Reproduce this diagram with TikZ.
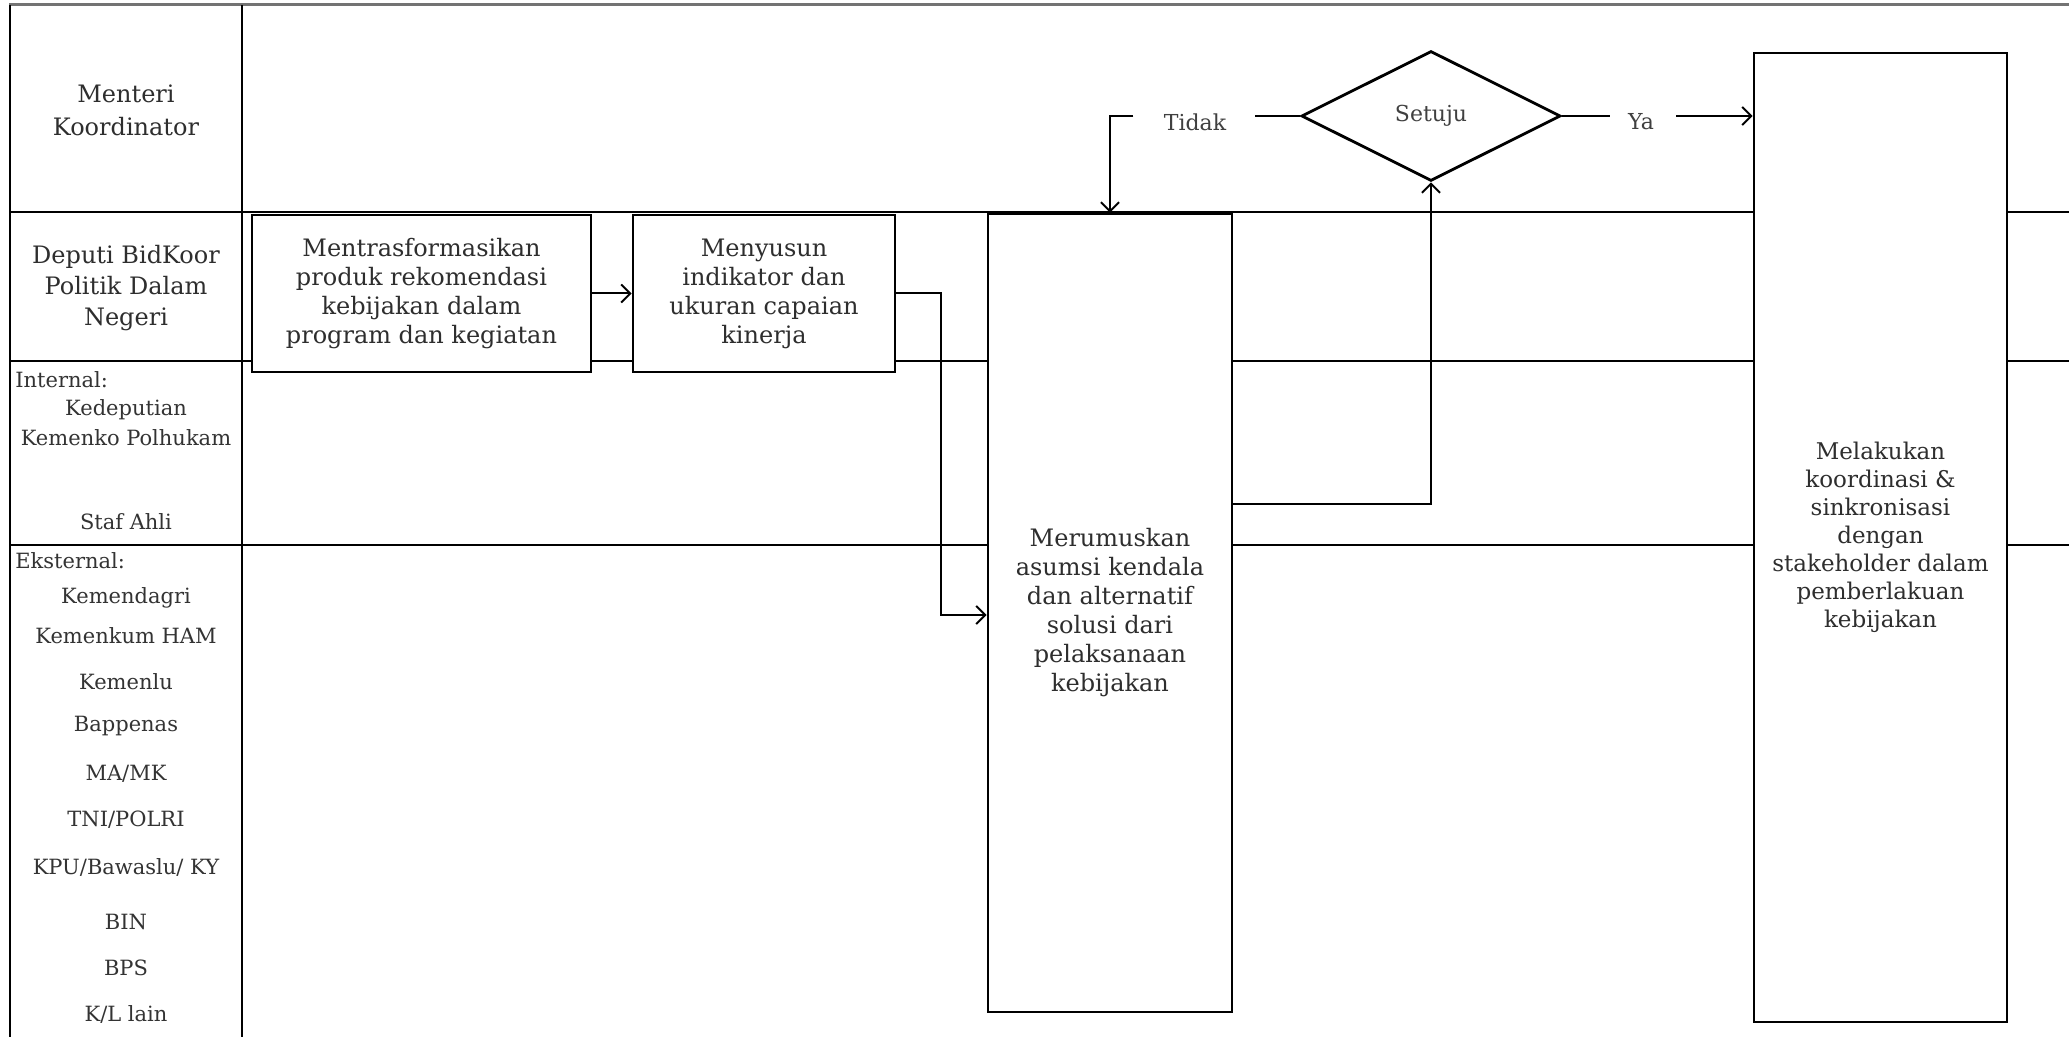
\documentclass[tikz,border=0pt]{standalone}
\usepackage{fontspec}
\setmainfont{DejaVu Serif}
\usetikzlibrary{shapes.geometric,arrows.meta}
\begin{document}
\begin{tikzpicture}[x=0.5pt,y=-0.5pt,
  lane/.style={line width=1pt,black},
  box/.style={draw=black,line width=1.4pt,fill=white,inner sep=0pt,align=center,text=black!82,font=\fontsize{12}{14.5}\selectfont},
  conn/.style={line width=1pt,-{Straight Barb[length=4.5pt,width=9pt]}},
  plain/.style={line width=1pt},
  lbl/.style={text=black!82,align=center,inner sep=0pt},
  lst/.style={text=black!80,inner sep=0pt,font=\fontsize{10.5}{12}\selectfont},
  dec/.style={text=black!75,inner sep=0pt,font=\fontsize{11}{13}\selectfont},
]
\useasboundingbox (0,0) rectangle (2069,1037);
\fill[white] (0,0) rectangle (2069,1037);
% frame and lanes
\draw[line width=1.5pt,black!55] (9,5) -- (2069,5);
\draw[lane] (9.5,5) -- (9.5,1037);
\draw[lane] (241.5,5) -- (241.5,1037);
\draw[lane] (9.5,212) -- (2069,212);
\draw[lane] (9.5,361) -- (2069,361);
\draw[lane] (9.5,545.5) -- (2069,545.5);
% lane labels
\node[lbl,font=\fontsize{12}{16.5}\selectfont] (lmk) at (126,110) {Menteri\\Koordinator};
\node[lbl,font=\fontsize{12}{15.5}\selectfont] (ldp) at (126,288) {Deputi BidKoor\\Politik Dalam\\Negeri};
\node[lst,anchor=west] (lint) at (15,380) {Internal:};
\node[lst] (la1) at (126,409.5) {Kedeputian};
\node[lst] (la2) at (126,438) {Kemenko Polhukam};
\node[lst] (la3) at (126,522) {Staf Ahli};
\node[lst,anchor=west] (leks) at (15,561) {Eksternal:};
\node[lst] (le1) at (126,598) {Kemendagri};
\node[lst] (le2) at (126,635.5) {Kemenkum HAM};
\node[lst] (le3) at (126,682) {Kemenlu};
\node[lst] (le4) at (126,726.5) {Bappenas};
\node[lst] (le5) at (126,774) {MA/MK};
\node[lst] (le6) at (126,820) {TNI/POLRI};
\node[lst] (le7) at (126,867) {KPU/Bawaslu/ KY};
\node[lst] (le8) at (126,921.5) {BIN};
\node[lst] (le9) at (126,968) {BPS};
\node[lst] (le10) at (126,1014) {K/L lain};
% process boxes
\node[box,minimum width=169.5pt,minimum height=78.5pt] (b1) at (421.5,293.5) {Mentrasformasikan\\produk rekomendasi\\kebijakan dalam\\program dan kegiatan};
\node[box,minimum width=131pt,minimum height=78.5pt] (b2) at (764,293.5) {Menyusun\\indikator dan\\ukuran capaian\\kinerja};
\node[box,minimum width=122pt,minimum height=399pt] (b3) at (1110,613) {Merumuskan\\asumsi kendala\\dan alternatif\\solusi dari\\pelaksanaan\\kebijakan};
\node[box,minimum width=126.5pt,minimum height=484.5pt,font=\fontsize{11.5}{14}\selectfont] (b4) at (1880.5,537.5) {Melakukan\\koordinasi \&\\sinkronisasi\\dengan\\stakeholder dalam\\pemberlakuan\\kebijakan};
% decision
\node[draw,diamond,line width=1.4pt,minimum width=129.5pt,minimum height=65pt,inner sep=0pt,fill=white,text=black!75,font=\fontsize{11}{13}\selectfont] (d) at (1431,116) {Setuju};
\node[dec] (t) at (1195,122) {Tidak};
\node[dec] (ya) at (1641,122) {Ya};
% connectors
\draw[conn] (b1) -- (b2);
\coordinate (k1) at (941,615);
\draw[conn] (b2.east) -| (k1) -- (k1 -| b3.west);
\coordinate (k2) at (1431,504);
\draw[conn] (k2 -| b3.east) -- (k2) -- (d.south);
\draw[plain] (d.west) -- ([xshift=14pt,yshift=3pt]t.east);
\draw[conn] ([xshift=-15pt,yshift=3pt]t.west) -| (b3.north);
\draw[plain] (d.east) -- ([xshift=-9pt,yshift=3pt]ya.west);
\draw[conn] ([xshift=11pt,yshift=3pt]ya.east) -- ([yshift=3pt]ya.east -| b4.west);
\end{tikzpicture}
\end{document}
